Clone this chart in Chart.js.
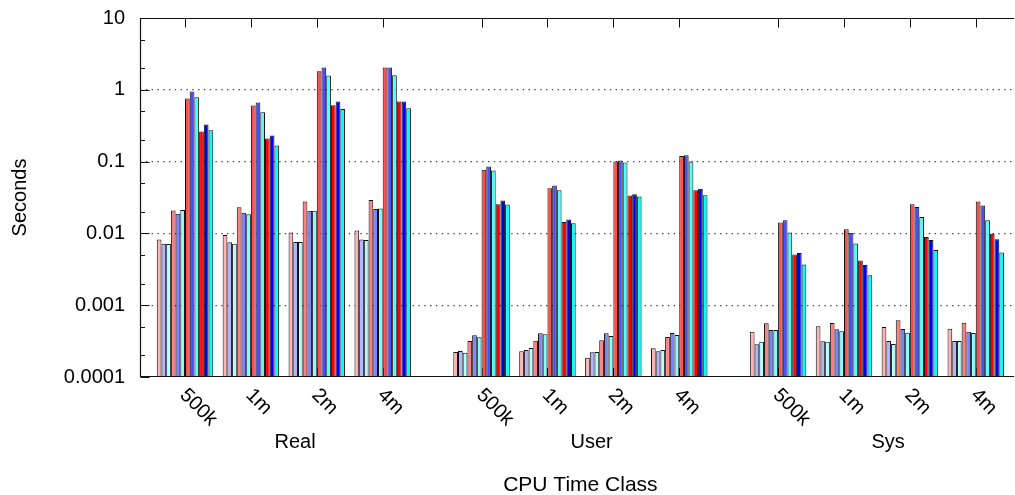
<!DOCTYPE html>
<html>
<head>
<meta charset="utf-8">
<title>CPU Time Class</title>
<script src="https://cdn.jsdelivr.net/npm/chart.js@4.4.1/dist/chart.umd.min.js"></script>
<style>
  html, body { margin: 0; padding: 0; background: #ffffff; }
  canvas { display: block; }
</style>
</head>
<body>
<canvas id="chart" width="1015" height="495"></canvas>
<script>
// Categories: three time classes, each split into four input sizes
const clusters = ['Real', 'User', 'Sys'];
const sizes = ['500k', '1m', '2m', '4m'];

// Y axis ticks (log scale, seconds)
const yDecades = [0.0001, 0.001, 0.01, 0.1, 1, 10];
const yDecadeLabels = ['0.0001', '0.001', '0.01', '0.1', '1', '10'];
const yMinorSteps = [2, 5];

// Series values, ordered Real 500k..4m, User 500k..4m, Sys 500k..4m
const s01 = [0.0082, 0.0095, 0.0103, 0.011,   0.000223, 0.000228, 0.000186, 0.000251,  0.000427, 0.000508, 0.000496, 0.00047];
const s02 = [0.0072, 0.0075, 0.0076, 0.0082,  0.00023, 0.000238, 0.000221, 0.000228,   0.000285, 0.000314, 0.000317, 0.000317];
const s03 = [0.0071, 0.0072, 0.0076, 0.0081,  0.000218, 0.000253, 0.000223, 0.000238,  0.00031, 0.00031, 0.000288, 0.000317];
const s04 = [0.0209, 0.0232, 0.0279, 0.0293,  0.000317, 0.00032, 0.000324, 0.00036,    0.000559, 0.000564, 0.000615, 0.00057];
const s05 = [0.0188, 0.0194, 0.0206, 0.0218,  0.00038, 0.000406, 0.000406, 0.00041,    0.000451, 0.000461, 0.000466, 0.000427];
const s06 = [0.0211, 0.0185, 0.0206, 0.0222,  0.000357, 0.000393, 0.000372, 0.000384,  0.000451, 0.000433, 0.000414, 0.00041];
const s07 = [0.755, 0.604, 1.81, 2.04,        0.0768, 0.0427, 0.1004, 0.120,           0.0142, 0.0114, 0.0255, 0.0279];
const s08 = [0.946, 0.665, 2.04, 2.04,        0.0855, 0.0466, 0.1037, 0.123,           0.0153, 0.0102, 0.0234, 0.0245];
const s09 = [0.787, 0.488, 1.58, 1.60,        0.0752, 0.040, 0.0973, 0.1005,           0.0103, 0.00725, 0.0169, 0.0153];
const s10 = [0.262, 0.21, 0.61, 0.687,        0.0255, 0.0144, 0.0338, 0.040,           0.00509, 0.00421, 0.00888, 0.00987];
const s11 = [0.328, 0.231, 0.687, 0.687,      0.0288, 0.0156, 0.0352, 0.0417,          0.00532, 0.00362, 0.00807, 0.00832];
const s12 = [0.273, 0.168, 0.542, 0.554,      0.0253, 0.0138, 0.0327, 0.0341,          0.0037, 0.00262, 0.00585, 0.00544];

const series = [s01, s02, s03, s04, s05, s06, s07, s08, s09, s10, s11, s12];
const seriesColors = [
  '#ffb3b3', '#b3b3ff', '#b3ffff',
  '#ff8080', '#8080ff', '#80ffff',
  '#ff4d4d', '#4d4dff', '#4dffff',
  '#ff0000', '#0000ff', '#00ffff'
];

// Group centres on a linear x axis: each cluster is followed by half a group of space
const clusterStride = sizes.length + 0.5;
const groupPos = [];
const groupLabel = [];
clusters.forEach((c, ci) => sizes.forEach((s, si) => {
  groupPos.push(ci * clusterStride + si);
  groupLabel.push(s);
}));

const FONT = "'Liberation Sans', Arial, Helvetica, sans-serif";
const FONT_SIZE = 20;

function yTickValues() {
  const out = [];
  yDecades.forEach((d, i) => {
    out.push(d);
    if (i < yDecades.length - 1) yMinorSteps.forEach(m => out.push(d * m));
  });
  return out;
}

function noPadding(s) {
  s.paddingTop = 0; s.paddingBottom = 0; s.paddingLeft = 0; s.paddingRight = 0;
}

// Frame, tick marks and x-axis texts
const framePlugin = {
  id: 'frame',
  beforeDatasetsDraw(chart) {
    const { ctx, chartArea: a, scales: { x } } = chart;
    ctx.save();
    ctx.strokeStyle = '#000';
    ctx.lineWidth = 1;
    ctx.beginPath();
    groupPos.forEach(p => {
      const px = Math.round(x.getPixelForValue(p)) + 0.5;
      ctx.moveTo(px, a.bottom);
      ctx.lineTo(px, a.bottom - 9);
    });
    ctx.stroke();
    ctx.restore();
  },
  afterDraw(chart) {
    const { ctx, chartArea: a, scales: { x, y } } = chart;
    ctx.save();
    ctx.strokeStyle = '#111';
    ctx.lineWidth = 1.2;
    const L = Math.round(a.left) + 0.5;
    const T = Math.round(a.top) + 0.5;
    const B = Math.round(a.bottom) - 0.5;
    ctx.beginPath();
    ctx.moveTo(a.right, T); ctx.lineTo(L, T); ctx.lineTo(L, B); ctx.lineTo(a.right, B);
    ctx.stroke();

    // y tick marks, pointing inward
    ctx.lineWidth = 1;
    ctx.beginPath();
    yTickValues().forEach(v => {
      const py = Math.round(y.getPixelForValue(v)) + 0.5;
      const len = yDecades.includes(v) ? 9 : 4.5;
      ctx.moveTo(L, py);
      ctx.lineTo(L + len, py);
    });
    // mirrored x tick marks along the top
    groupPos.forEach(p => {
      const px = Math.round(x.getPixelForValue(p)) + 0.5;
      ctx.moveTo(px, T);
      ctx.lineTo(px, T + 9);
    });
    ctx.stroke();

    // size labels, rotated 45 degrees clockwise
    ctx.fillStyle = '#000';
    ctx.font = FONT_SIZE + 'px ' + FONT;
    ctx.textAlign = 'left';
    ctx.textBaseline = 'middle';
    groupPos.forEach((p, i) => {
      const px = x.getPixelForValue(p);
      ctx.save();
      ctx.translate(px - 2, a.bottom + 15);
      ctx.rotate(Math.PI / 4);
      ctx.fillText(groupLabel[i], 0, 0);
      ctx.restore();
    });

    // cluster titles
    ctx.textAlign = 'center';
    clusters.forEach((c, ci) => {
      const px = x.getPixelForValue(ci * clusterStride + (sizes.length - 1) / 2 + 0.17);
      ctx.fillText(c, px, a.bottom + 65);
    });

    // axis title, centred under the groups
    const mid = (groupPos[0] + groupPos[groupPos.length - 1]) / 2;
    ctx.font = (FONT_SIZE + 1) + 'px ' + FONT;
    ctx.fillText('CPU Time Class', x.getPixelForValue(mid), a.bottom + 108);
    ctx.restore();
  }
};

new Chart(document.getElementById('chart'), {
  type: 'bar',
  data: {
    datasets: series.map((vals, i) => ({
      label: 'series ' + (i + 1),
      data: vals.map((v, k) => ({ x: groupPos[k], y: v })),
      backgroundColor: seriesColors[i],
      borderColor: '#111',
      borderWidth: 1
    }))
  },
  options: {
    responsive: false,
    animation: false,
    devicePixelRatio: 1,
    layout: { padding: { top: 18, right: 1, bottom: 0, left: 0 } },
    datasets: { bar: { categoryPercentage: 12 / 14, barPercentage: 1 } },
    plugins: { legend: { display: false }, tooltip: { enabled: false } },
    scales: {
      x: {
        type: 'linear',
        min: -0.683,
        max: 12.58,
        offset: false,
        grid: { display: false },
        border: { display: false },
        ticks: { display: false },
        afterBuildTicks: s => { s.ticks = groupPos.map(v => ({ value: v })); },
        afterFit: s => { s.height = 118; noPadding(s); }
      },
      y: {
        type: 'logarithmic',
        min: 0.0001,
        max: 10,
        afterBuildTicks: s => { s.ticks = yTickValues().map(v => ({ value: v })); },
        ticks: {
          autoSkip: false,
          padding: 15,
          color: '#000',
          font: { family: FONT, size: FONT_SIZE },
          callback: v => {
            const i = yDecades.indexOf(v);
            return i >= 0 ? yDecadeLabels[i] : '';
          }
        },
        grid: {
          drawTicks: false,
          lineWidth: 1.2,
          color: ctx => {
            const v = ctx.tick && ctx.tick.value;
            const i = yDecades.indexOf(v);
            return (i > 0 && i < yDecades.length - 1) ? '#444' : 'rgba(0,0,0,0)';
          }
        },
        border: { display: false, dash: [1.4, 4.4] },
        title: {
          display: true,
          text: 'Seconds',
          color: '#000',
          font: { family: FONT, size: FONT_SIZE },
          padding: { top: 8, bottom: 0 }
        },
        afterFit: s => { s.width = 140; noPadding(s); }
      }
    }
  },
  plugins: [framePlugin]
});
</script>
</body>
</html>
